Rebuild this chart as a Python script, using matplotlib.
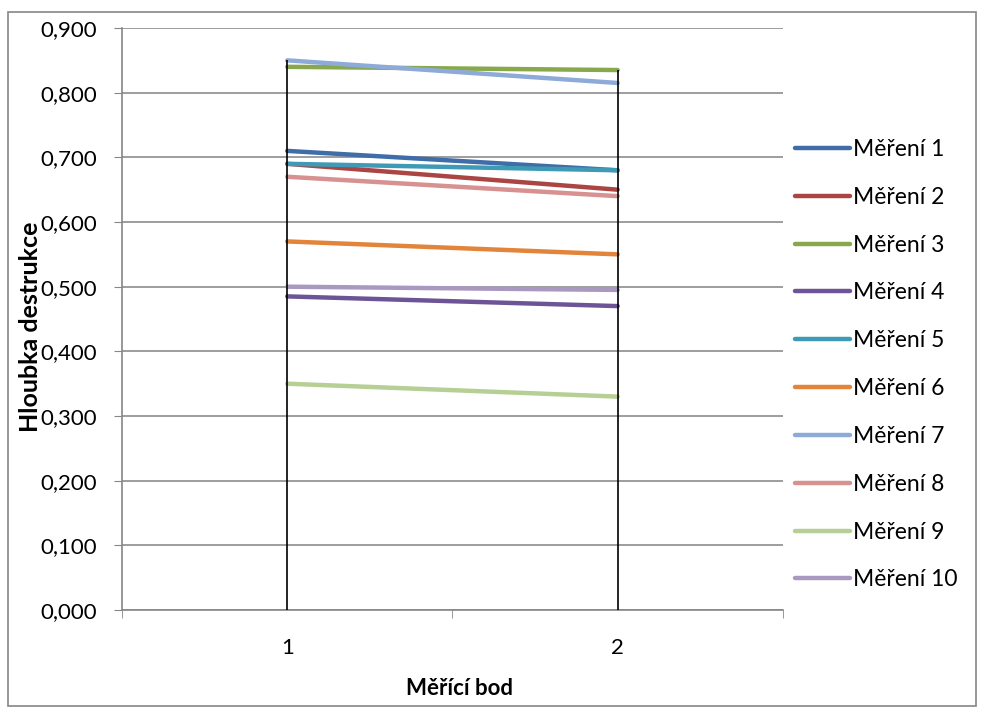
import matplotlib.pyplot as plt
from matplotlib.patches import Rectangle
from matplotlib.ticker import FuncFormatter, FixedLocator

plt.rcParams['font.family'] = ['Lato', 'DejaVu Sans']

# measuring points and series values
points = [1, 2]
series_names = ["Měření 1", "Měření 2", "Měření 3", "Měření 4", "Měření 5",
                "Měření 6", "Měření 7", "Měření 8", "Měření 9", "Měření 10"]
m1 = [0.710, 0.680]
m2 = [0.690, 0.650]
m3 = [0.840, 0.835]
m4 = [0.485, 0.470]
m5 = [0.690, 0.680]
m6 = [0.570, 0.550]
m7 = [0.850, 0.815]
m8 = [0.670, 0.640]
m9 = [0.350, 0.330]
m10 = [0.500, 0.495]
series = [m1, m2, m3, m4, m5, m6, m7, m8, m9, m10]
colors = ["#3F6DA8", "#AA4543", "#87A84B", "#6C5496", "#3F9BB5",
          "#E2843A", "#8EAAD8", "#D69190", "#B5CF94", "#A999C1"]

fig = plt.figure(figsize=(9.81, 7.11), dpi=100)
ax = fig.add_axes([0.1244, 0.142, 0.6736, 0.8186])

for name, vals, c in zip(series_names, series, colors):
    ax.plot(points, vals, color=c, lw=3.2, label=name, solid_capstyle='round', zorder=3)

# drop lines from the highest value down to the axis
for i, p in enumerate(points):
    top = max(s[i] for s in series)
    ax.vlines(p, 0, top, color='black', lw=1.2, zorder=4)

ax.set_xlim(0.5, 2.5)
ax.set_ylim(0, 0.9)
ax.set_yticks([i / 10 for i in range(10)])
ax.yaxis.set_major_formatter(FuncFormatter(lambda v, _: f"{v:.3f}".replace('.', ',')))
ax.set_xticks(points)
ax.set_xticklabels([str(p) for p in points])
ax.xaxis.set_minor_locator(FixedLocator([0.5, 1.5, 2.5]))
ax.tick_params(axis='x', which='major', length=0, pad=20, labelsize=16)
ax.tick_params(axis='x', which='minor', length=6, color='#868686', direction='out')
ax.tick_params(axis='y', length=6, color='#868686', direction='out', pad=12, labelsize=16)

ax.grid(axis='y', color='#8C8C8C', lw=1.2, zorder=1)
ax.set_axisbelow(True)
for s in ['top', 'right']:
    ax.spines[s].set_visible(False)
for s in ['left', 'bottom']:
    ax.spines[s].set_color('#868686')
    ax.spines[s].set_linewidth(1.2)

fig.text(0.468, 0.032, "Měřící bod", ha='center', va='center', fontsize=16, fontweight='bold')
fig.text(0.031, 0.54, "Hloubka destrukce", ha='center', va='center', rotation=90,
         fontsize=18, fontweight='bold')

leg = ax.legend(loc='upper left', bbox_to_anchor=(1.0045, 0.825), frameon=False,
                fontsize=16.5, handlelength=2.4, handletextpad=0.12, labelspacing=1.17,
                borderaxespad=0)

fig.patches.append(Rectangle((0.008, 0.007), 0.987, 0.976, transform=fig.transFigure,
                             fill=False, edgecolor='#868686', lw=1.2))

fig.savefig("out.png", dpi=100)
